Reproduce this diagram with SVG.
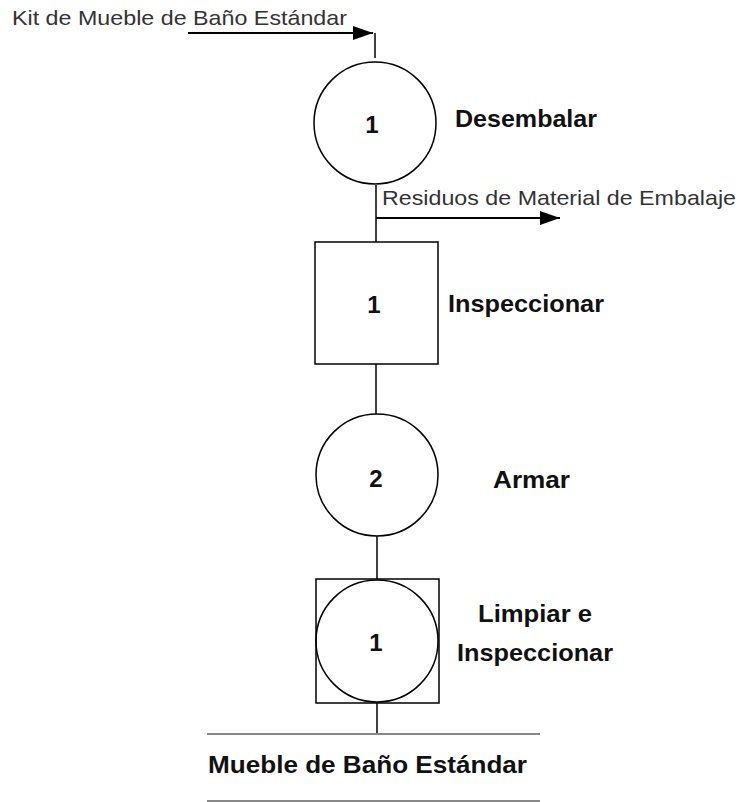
<svg xmlns="http://www.w3.org/2000/svg" width="739" height="802" viewBox="0 0 739 802">
<style>
.s{fill:none;stroke:#000;stroke-width:1.5}
.g{fill:none;stroke:#888;stroke-width:2}
.r{font-family:"Liberation Sans",Arial,sans-serif;font-size:21px;fill:#333}
.b{font-family:"Liberation Sans",Arial,sans-serif;font-size:24px;font-weight:bold;fill:#111}
.n{font-family:"Liberation Sans",Arial,sans-serif;font-size:24px;font-weight:bold;fill:#111;text-anchor:middle}
</style>
<defs>
<marker id="ah" markerWidth="20" markerHeight="14" refX="20" refY="7" orient="auto" markerUnits="userSpaceOnUse">
<path d="M0,0 L20,7 L0,14 Z" fill="#000"/>
</marker>
</defs>
<rect width="739" height="802" fill="#fff"/>
<g id="connectors">
<path class="s" d="M188,33 H373" marker-end="url(#ah)" style="stroke-width:2"/>
<path class="s" d="M375,33 V58"/>
<path class="s" d="M376,185 V242"/>
<path class="s" d="M376,218 H560" marker-end="url(#ah)" style="stroke-width:2"/>
<path class="s" d="M376,364 V414"/>
<path class="s" d="M377,536 V579"/>
<path class="s" d="M377,703 V734"/>
</g>
<g id="input-label">
<text class="r" x="12" y="25" textLength="335" lengthAdjust="spacingAndGlyphs">Kit de Mueble de Baño Estándar</text>
</g>
<g id="op1">
<circle class="s" cx="375" cy="123" r="61"/>
<text class="n" x="372" y="133">1</text>
<text class="b" x="455" y="127" textLength="142" lengthAdjust="spacingAndGlyphs">Desembalar</text>
</g>
<g id="waste-label">
<text class="r" x="382" y="205" textLength="354" lengthAdjust="spacingAndGlyphs">Residuos de Material de Embalaje</text>
</g>
<g id="insp1">
<rect class="s" x="315" y="242" width="123" height="122"/>
<text class="n" x="374" y="313">1</text>
<text class="b" x="448" y="312" textLength="156" lengthAdjust="spacingAndGlyphs">Inspeccionar</text>
</g>
<g id="op2">
<circle class="s" cx="377" cy="475" r="61"/>
<text class="n" x="376" y="487">2</text>
<text class="b" x="493" y="488" textLength="77" lengthAdjust="spacingAndGlyphs">Armar</text>
</g>
<g id="combined1">
<rect class="s" x="316" y="579" width="123" height="124"/>
<circle class="s" cx="377" cy="641" r="61"/>
<text class="n" x="376" y="651">1</text>
<text class="b" x="478" y="622" textLength="114" lengthAdjust="spacingAndGlyphs">Limpiar e</text>
<text class="b" x="457" y="661" textLength="156" lengthAdjust="spacingAndGlyphs">Inspeccionar</text>
</g>
<g id="output">
<line class="g" x1="207" y1="734" x2="540" y2="734"/>
<text class="b" x="208" y="773" textLength="319" lengthAdjust="spacingAndGlyphs">Mueble de Baño Estándar</text>
<line class="g" x1="207" y1="801" x2="540" y2="801"/>
</g>
</svg>
